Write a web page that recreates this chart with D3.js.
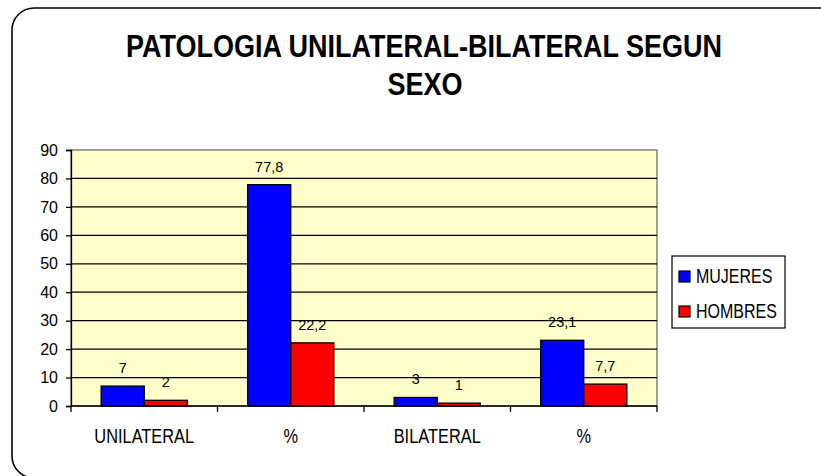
<!DOCTYPE html>
<html>
<head>
<meta charset="utf-8">
<script src="https://cdn.jsdelivr.net/npm/d3@7"></script>
<style>
	body {margin: 0; background: #fff;}
	text {font-family: "Liberation Sans", Arial, sans-serif; fill: #000;}
</style>
</head>
<body>
<div id="chart"></div>
<script>
(function(){
	var categories = ['UNILATERAL', '%', 'BILATERAL', '%'];
	var series = ['MUJERES', 'HOMBRES'];
	var mujeres = [7, 77.8, 3, 23.1];
	var hombres = [2, 22.2, 1, 7.7];
	var yTicks = [0, 10, 20, 30, 40, 50, 60, 70, 80, 90];
	var colors = {'MUJERES': '#0000ff', 'HOMBRES': '#ff0000'};

	var width = 821, height = 476;
	var plot = {left: 71, top: 150, right: 657, bottom: 406};

	// squeeze text horizontally, the original font is a narrow one
	var condense = function(sel, k) {
		sel.each(function() {
			var w = this.getComputedTextLength();
			d3.select(this).attr('textLength', w * k).attr('lengthAdjust', 'spacingAndGlyphs');
		});
	}

	var svg = d3.select('#chart')
	.append('svg')
		.attr('width', width)
		.attr('height', height);

	// outer rounded frame (runs off the right and bottom edges)
	svg.append('rect')
		.attr('x', 12).attr('y', 8)
		.attr('width', 830).attr('height', 470)
		.attr('rx', 22).attr('ry', 22)
		.style('fill', '#fff').style('stroke', '#000').style('stroke-width', 1.6);

	// title
	var title = svg.append('g')
		.attr('text-anchor', 'middle')
		.style('font-weight', 'bold').style('font-size', '30.5px');
	title.append('text').attr('x', 424).attr('y', 57)
		.text('PATOLOGIA UNILATERAL-BILATERAL SEGUN');
	title.append('text').attr('x', 425).attr('y', 95)
		.text('SEXO');
	condense(title.selectAll('text'), 0.885);

	var x = d3.scaleBand().domain(d3.range(categories.length)).range([plot.left, plot.right]);
	var xs = d3.scaleBand().domain(series).range([0, x.bandwidth()]).paddingOuter(0.7);
	var y = d3.scaleLinear().domain([0, 90]).range([plot.bottom, plot.top]);

	// plot area
	svg.append('rect')
		.attr('x', plot.left).attr('y', plot.top)
		.attr('width', plot.right - plot.left).attr('height', plot.bottom - plot.top)
		.style('fill', '#ffffcc').style('stroke', '#808080').style('stroke-width', 1.5);

	svg.append('g').selectAll('line')
		.data(yTicks.filter(function(d) {return d > 0 && d < 90;}))
		.enter().append('line')
			.attr('x1', plot.left).attr('x2', plot.right)
			.attr('y1', function(d) {return y(d);}).attr('y2', function(d) {return y(d);})
			.style('stroke', '#000').style('stroke-width', 1.3);

	// bars
	var rows = categories.map(function(c, i) {
		return [{s: 'MUJERES', v: mujeres[i], i: i}, {s: 'HOMBRES', v: hombres[i], i: i}];
	});
	var groups = svg.append('g').selectAll('g')
		.data(rows)
		.enter().append('g')
			.attr('transform', function(d, i) {return 'translate(' + x(i) + ',0)';});

	groups.selectAll('rect')
		.data(function(d) {return d;})
		.enter().append('rect')
			.attr('x', function(d) {return xs(d.s);})
			.attr('y', function(d) {return y(d.v);})
			.attr('width', xs.bandwidth())
			.attr('height', function(d) {return y(0) - y(d.v);})
			.style('fill', function(d) {return colors[d.s];})
			.style('stroke', '#000').style('stroke-width', 1.3);

	groups.selectAll('text')
		.data(function(d) {return d;})
		.enter().append('text')
			.attr('x', function(d) {return xs(d.s) + xs.bandwidth() / 2;})
			.attr('y', function(d) {return y(d.v) - 13;})
			.attr('text-anchor', 'middle')
			.style('font-size', '14.5px')
			.text(function(d) {return String(d.v).replace('.', ',');});

	// y axis
	var yAxis = svg.append('g')
		.attr('transform', 'translate(' + plot.left + ',0)')
		.call(d3.axisLeft(y).tickValues(yTicks).tickSize(5).tickPadding(8))
		.attr('font-size', 16)
		.attr('font-family', '"Liberation Sans", Arial, sans-serif');
	yAxis.select('.domain').style('stroke', '#000').style('stroke-width', 1.3);
	yAxis.selectAll('.tick line').style('stroke', '#000').style('stroke-width', 1.3);
	yAxis.selectAll('.tick text').style('font-size', '16px');

	// x axis
	var xAxis = svg.append('g');
	xAxis.append('line')
		.attr('x1', plot.left).attr('x2', plot.right)
		.attr('y1', plot.bottom).attr('y2', plot.bottom)
		.style('stroke', '#000').style('stroke-width', 1.5);
	xAxis.selectAll('.cut')
		.data(d3.range(categories.length + 1))
		.enter().append('line')
			.attr('class', 'cut')
			.attr('x1', function(i) {return plot.left + i * x.step();})
			.attr('x2', function(i) {return plot.left + i * x.step();})
			.attr('y1', plot.bottom).attr('y2', plot.bottom + 6)
			.style('stroke', '#000').style('stroke-width', 1.3);
	xAxis.selectAll('text')
		.data(categories)
		.enter().append('text')
			.attr('x', function(d, i) {return x(i) + x.bandwidth() / 2;})
			.attr('y', 443)
			.attr('text-anchor', 'middle')
			.style('font-size', '19.5px')
			.text(function(d) {return d;})
			.call(condense, 0.84);

	// legend
	var legend = svg.append('g');
	legend.append('rect')
		.attr('x', 672).attr('y', 256).attr('width', 113).attr('height', 72)
		.style('fill', '#fff').style('stroke', '#000').style('stroke-width', 1.2);
	var items = legend.selectAll('g')
		.data(series)
		.enter().append('g')
			.attr('transform', function(d, i) {return 'translate(679,' + (271 + i * 35) + ')';});
	items.append('rect')
		.attr('width', 11).attr('height', 11)
		.style('fill', function(d) {return colors[d];})
		.style('stroke', '#000').style('stroke-width', 1.2);
	items.append('text')
		.attr('x', 17).attr('y', 12)
		.style('font-size', '19.5px')
		.text(function(d) {return d;})
		.call(condense, 0.82);
})();
</script>
</body>
</html>
